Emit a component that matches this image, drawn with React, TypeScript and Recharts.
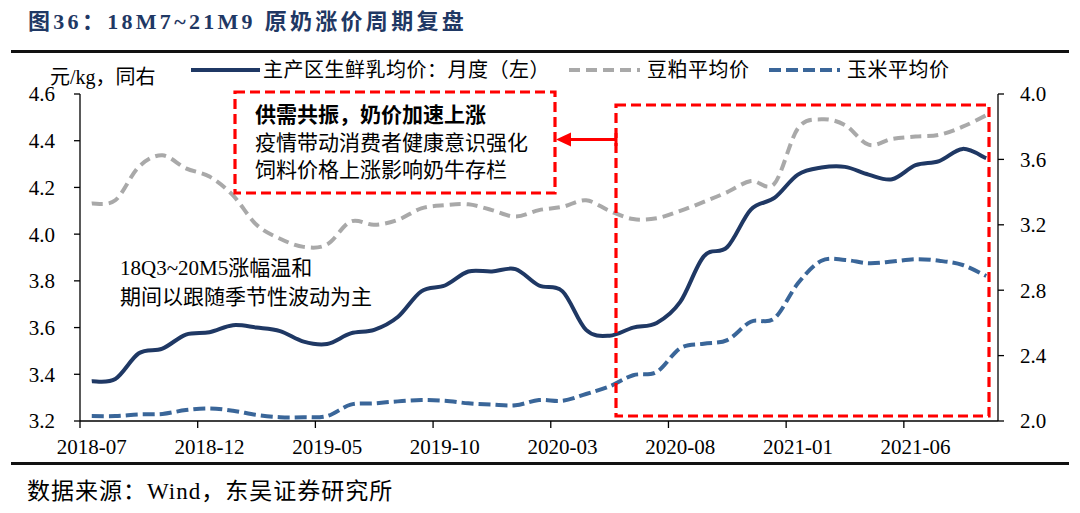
import { LineChart, Line, XAxis, YAxis } from 'recharts';

// monthly categories, 2018-07 .. 2021-09
const months = [
  '2018-07', '2018-08', '2018-09', '2018-10', '2018-11', '2018-12',
  '2019-01', '2019-02', '2019-03', '2019-04', '2019-05', '2019-06',
  '2019-07', '2019-08', '2019-09', '2019-10', '2019-11', '2019-12',
  '2020-01', '2020-02', '2020-03', '2020-04', '2020-05', '2020-06',
  '2020-07', '2020-08', '2020-09', '2020-10', '2020-11', '2020-12',
  '2021-01', '2021-02', '2021-03', '2021-04', '2021-05', '2021-06',
  '2021-07', '2021-08', '2021-09',
];

// 主产区生鲜乳均价 (left axis, 元/kg)
const milkPrice = [
  3.37, 3.38, 3.49, 3.51, 3.57, 3.58, 3.61, 3.60, 3.585, 3.54,
  3.53, 3.575, 3.59, 3.645, 3.755, 3.78, 3.84, 3.84, 3.85, 3.78,
  3.755, 3.59, 3.565, 3.60, 3.62, 3.71, 3.905, 3.945, 4.105, 4.155,
  4.255, 4.285, 4.288, 4.255, 4.235, 4.295, 4.313, 4.365, 4.325,
];

// 豆粕平均价 (right axis)
const soymealPrice = [
  3.33, 3.35, 3.555, 3.625, 3.545, 3.495, 3.38, 3.20, 3.115, 3.065,
  3.08, 3.22, 3.20, 3.23, 3.30, 3.32, 3.325, 3.29, 3.25, 3.29,
  3.31, 3.35, 3.285, 3.235, 3.24, 3.285, 3.34, 3.40, 3.468, 3.452,
  3.79, 3.845, 3.81, 3.69, 3.725, 3.74, 3.75, 3.80, 3.87,
];

// 玉米平均价 (right axis)
const cornPrice = [
  2.03, 2.03, 2.04, 2.043, 2.067, 2.077, 2.063, 2.037, 2.023, 2.023,
  2.03, 2.10, 2.108, 2.12, 2.128, 2.124, 2.108, 2.10, 2.096, 2.128,
  2.124, 2.165, 2.212, 2.28, 2.30, 2.445, 2.473, 2.495, 2.607, 2.628,
  2.842, 2.98, 2.985, 2.965, 2.975, 2.99, 2.98, 2.954, 2.887,
];

const leftTicks = [3.2, 3.4, 3.6, 3.8, 4.0, 4.2, 4.4, 4.6];
const rightTicks = [2.0, 2.4, 2.8, 3.2, 3.6, 4.0];
const labelEvery = 5;

const SERIF = '"Liberation Serif", "Noto Sans CJK SC", serif';
const NAVY = '#1F3864';
const GREY = '#A9A9A9';
const CORN = '#3A6699';
const RED = '#FF0000';

const W = 1080;
const H = 513;
const PLOT_LEFT = 80;
const PLOT_RIGHT = 998;
const PLOT_TOP = 94;
const PLOT_BOTTOM = 421;
const HALF_BAND = (PLOT_RIGHT - PLOT_LEFT) / months.length / 2;

const chartData = months.map((month, i) => ({
  idx: i,
  month,
  milk: milkPrice[i],
  soymeal: soymealPrice[i],
  corn: cornPrice[i],
}));

const xTicks = months.map((_, i) => i).filter((i) => i % labelEvery === 0);

// Excel-like smoothed line (Catmull-Rom through every point)
function smoothCurve(context: any) {
  let pts: [number, number][] = [];
  return {
    areaStart() {},
    areaEnd() {},
    lineStart() {
      pts = [];
    },
    point(x: number, y: number) {
      pts.push([+x, +y]);
    },
    lineEnd() {
      if (!pts.length) return;
      context.moveTo(pts[0][0], pts[0][1]);
      for (let i = 0; i < pts.length - 1; i++) {
        const p0 = pts[i - 1] || pts[i];
        const p1 = pts[i];
        const p2 = pts[i + 1];
        const p3 = pts[i + 2] || p2;
        context.bezierCurveTo(
          p1[0] + (p2[0] - p0[0]) / 6,
          p1[1] + (p2[1] - p0[1]) / 6,
          p2[0] - (p3[0] - p1[0]) / 6,
          p2[1] - (p3[1] - p1[1]) / 6,
          p2[0],
          p2[1],
        );
      }
    },
  };
}

// label sits on the category centre, tick mark on the category's left edge
function MonthTick(props: any) {
  const { x, y, payload } = props;
  const edge = x - HALF_BAND;
  return (
    <g>
      <line x1={edge} x2={edge} y1={y} y2={y + 7} stroke="#000" strokeWidth={1.3} />
      <text
        x={x}
        y={y + 26}
        textAnchor="middle"
        dominantBaseline="central"
        fontSize={21}
        fontFamily={SERIF}
        fill="#000"
      >
        {months[payload.value]}
      </text>
    </g>
  );
}

function Overlay() {
  const boxText = { fontSize: 21, fontFamily: SERIF, fill: '#000', dominantBaseline: 'central' as const };
  const legendText = { fontSize: 20, fontFamily: SERIF, fill: '#000', dominantBaseline: 'central' as const, letterSpacing: 0.5 };
  return (
    <svg width={W} height={H} style={{ position: 'absolute', left: 0, top: 0, pointerEvents: 'none' }}>
      {/* title + rules */}
      <text x={28} y={21} fontSize={22} fontWeight="bold" fontFamily={SERIF} fill={NAVY} letterSpacing={3.3} dominantBaseline="central">
        图36：18M7~21M9 原奶涨价周期复盘
      </text>
      <rect x={11} y={50} width={1058} height={3} fill="#111" />
      <rect x={11} y={462} width={1058} height={3} fill="#111" />
      <text x={27} y={491} fontSize={23} fontFamily={SERIF} fill="#000" letterSpacing={1} dominantBaseline="central">
        数据来源：Wind，东吴证券研究所
      </text>

      {/* unit */}
      <text x={50} y={77} fontSize={20} fontFamily={SERIF} fill="#000" dominantBaseline="central">元/kg，同右</text>

      {/* legend */}
      <line x1={191} x2={260} y1={70} y2={70} stroke={NAVY} strokeWidth={4} />
      <text x={263} y={70} {...legendText}>主产区生鲜乳均价：月度（左）</text>
      <line x1={569} x2={640} y1={70} y2={70} stroke={GREY} strokeWidth={4} strokeDasharray="11 6" />
      <text x={647} y={70} {...legendText}>豆粕平均价</text>
      <line x1={769} x2={840} y1={70} y2={70} stroke={CORN} strokeWidth={4} strokeDasharray="12 5" />
      <text x={847} y={70} {...legendText}>玉米平均价</text>

      {/* left annotation box */}
      <rect x={235} y={92} width={320} height={101} fill="#fff" stroke={RED} strokeWidth={3.2} strokeDasharray="10 5" />
      <text x={255} y={115} {...boxText} fontWeight="bold">供需共振，奶价加速上涨</text>
      <text x={255} y={143} {...boxText}>疫情带动消费者健康意识强化</text>
      <text x={255} y={170} {...boxText}>饲料价格上涨影响奶牛存栏</text>

      {/* right highlight box + arrow */}
      <rect x={616} y={105} width={373} height={311} fill="none" stroke={RED} strokeWidth={3.2} strokeDasharray="10 5" />
      <line x1={616} x2={568} y1={139.5} y2={139.5} stroke={RED} strokeWidth={3} />
      <line x1={616} x2={616} y1={133} y2={146} stroke={RED} strokeWidth={3} />
      <polygon points="556,139.5 571,132.5 571,146.5" fill={RED} />

      {/* period note */}
      <text x={120} y={268} {...boxText}>18Q3~20M5涨幅温和</text>
      <text x={120} y={297} {...boxText}>期间以跟随季节性波动为主</text>
    </svg>
  );
}

export default function App() {
  return (
    <div style={{ position: 'absolute', left: 0, top: 0, width: W, height: H, background: '#fff' }}>
      <LineChart
        width={W}
        height={H}
        data={chartData}
        margin={{ top: PLOT_TOP, right: 0, bottom: 0, left: 0 }}
      >
        <XAxis
          dataKey="idx"
          type="number"
          domain={[-0.5, months.length - 0.5]}
          ticks={xTicks}
          interval={0}
          height={H - PLOT_BOTTOM}
          tick={<MonthTick />}
          tickSize={0}
          tickMargin={0}
          tickLine={false}
          axisLine={{ stroke: '#000', strokeWidth: 1.3 }}
        />
        <YAxis
          yAxisId="left"
          width={PLOT_LEFT}
          domain={[3.2, 4.6]}
          ticks={leftTicks}
          allowDataOverflow
          tickFormatter={(v: number) => v.toFixed(1)}
          tick={{ fontSize: 21, fontFamily: SERIF, fill: '#000' }}
          tickSize={6}
          tickMargin={19}
          axisLine={{ stroke: '#000', strokeWidth: 1.3 }}
          tickLine={{ stroke: '#000', strokeWidth: 1.3 }}
        />
        <YAxis
          yAxisId="right"
          orientation="right"
          width={W - PLOT_RIGHT}
          domain={[2.0, 4.0]}
          ticks={rightTicks}
          allowDataOverflow
          tickFormatter={(v: number) => v.toFixed(1)}
          tick={{ fontSize: 21, fontFamily: SERIF, fill: '#000' }}
          tickSize={6}
          tickMargin={16}
          axisLine={{ stroke: '#000', strokeWidth: 1.3 }}
          tickLine={{ stroke: '#000', strokeWidth: 1.3 }}
        />
        <Line
          yAxisId="left"
          type={smoothCurve as any}
          dataKey="milk"
          stroke={NAVY}
          strokeWidth={4}
          dot={false}
          isAnimationActive={false}
        />
        <Line
          yAxisId="right"
          type={smoothCurve as any}
          dataKey="soymeal"
          stroke={GREY}
          strokeWidth={4}
          strokeDasharray="11 6"
          dot={false}
          isAnimationActive={false}
        />
        <Line
          yAxisId="right"
          type={smoothCurve as any}
          dataKey="corn"
          stroke={CORN}
          strokeWidth={4}
          strokeDasharray="12 5"
          dot={false}
          isAnimationActive={false}
        />
      </LineChart>
      <Overlay />
    </div>
  );
}
